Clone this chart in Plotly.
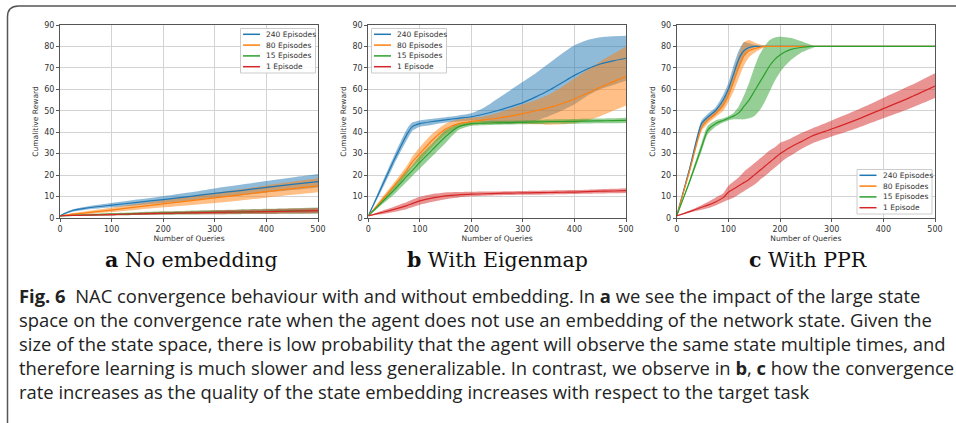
import plotly.graph_objects as go

# ---------------- data ----------------
SERIES_NAMES = ["240 Episodes", "80 Episodes", "15 Episodes", "1 Episode"]
COLORS = ["#1f77b4", "#ff7f0e", "#2ca02c", "#d62728"]
FILLS = ["rgba(31,119,180,0.5)", "rgba(255,127,14,0.5)", "rgba(44,160,44,0.5)", "rgba(214,39,40,0.5)"]

# Panel a: No embedding
xa = [0, 10, 25, 50, 100, 150, 200, 250, 300, 350, 400, 450, 500]
a_240_mean = [1, 2.2, 3.5, 4.6, 6.0, 7.3, 8.6, 10.0, 11.5, 12.8, 14.3, 15.7, 17.0]
a_240_lo = [1, 1.8, 3.0, 3.9, 5.0, 6.0, 7.0, 8.2, 9.5, 10.6, 11.8, 13.0, 14.2]
a_240_hi = [1, 2.6, 4.1, 5.3, 7.0, 8.6, 10.2, 11.9, 13.8, 15.5, 17.2, 18.9, 20.5]
a_80_mean = [1, 1.3, 1.8, 2.4, 3.7, 5.2, 6.6, 8.0, 9.4, 10.8, 12.3, 13.7, 15.0]
a_80_lo = [1, 1.1, 1.4, 1.8, 2.8, 3.9, 5.0, 6.0, 7.0, 8.2, 9.5, 10.8, 12.0]
a_80_hi = [1, 1.6, 2.3, 3.2, 4.8, 6.6, 8.3, 10.0, 11.7, 13.4, 15.2, 16.9, 18.5]
a_15_mean = [1, 1.1, 1.2, 1.4, 1.7, 2.0, 2.3, 2.5, 2.7, 2.9, 3.1, 3.3, 3.5]
a_15_lo = [1, 1.0, 1.0, 1.1, 1.2, 1.4, 1.5, 1.6, 1.7, 1.8, 1.9, 2.0, 2.1]
a_15_hi = [1, 1.3, 1.5, 1.8, 2.3, 2.7, 3.1, 3.4, 3.7, 4.0, 4.3, 4.6, 4.9]
a_1_mean = [1, 1.1, 1.2, 1.3, 1.6, 1.9, 2.2, 2.4, 2.6, 2.8, 3.0, 3.2, 3.4]
a_1_lo = [1, 1.0, 1.0, 1.1, 1.2, 1.4, 1.6, 1.7, 1.8, 1.9, 2.0, 2.1, 2.2]
a_1_hi = [1, 1.2, 1.4, 1.6, 2.1, 2.5, 2.9, 3.2, 3.5, 3.8, 4.1, 4.4, 4.7]

# Panel b: With Eigenmap
xb = [0, 25, 50, 75, 85, 100, 125, 150, 175, 200, 225, 250, 275, 300, 325, 350, 375, 400, 425, 450, 475, 500]
b_240_mean = [1, 14, 27, 39, 42.5, 44, 45, 45.8, 46.5, 47.2, 48.5, 50, 51.8, 53.8, 56.5, 59.5, 63, 66.5, 69.5, 71.8, 73.3, 74.5]
b_240_lo = [1, 12.5, 25, 36.5, 40.5, 42.5, 43.5, 44.5, 45, 45.5, 45, 44.2, 44, 44.5, 45.5, 47.5, 50, 53, 57, 60, 62, 64]
b_240_hi = [1, 15.5, 29, 41.5, 44.5, 45.5, 46.3, 47, 47.8, 48.8, 51.5, 55.5, 59.5, 63.5, 67.5, 72, 76.5, 80.5, 83, 84.3, 84.8, 85]
b_80_mean = [1, 8, 15, 22.5, 26, 30, 36.5, 41.5, 44, 45, 45.8, 46.5, 47.5, 48.7, 50, 51.5, 53.3, 55.5, 58.2, 61, 63.5, 66]
b_80_lo = [1, 7, 13.5, 20.5, 23.5, 27, 33.5, 39, 42.5, 43.5, 44, 44, 44, 44, 43.7, 43.5, 43.7, 44.2, 45.5, 47.5, 50, 52.5]
b_80_hi = [1, 9, 16.5, 24.5, 28.5, 33, 39.5, 44, 46, 46.8, 47.5, 49, 51, 53, 55, 57.5, 61, 65, 69, 73, 76.5, 80]
b_15_mean = [1, 7, 13, 19.5, 22, 26, 32, 38, 42.5, 44, 44.2, 44.4, 44.5, 44.6, 44.8, 45, 45, 45.1, 45.2, 45.3, 45.4, 45.5]
b_15_lo = [1, 6, 11, 17, 19.5, 23, 29, 35, 41, 43, 43.3, 43.5, 43.6, 43.7, 43.8, 44, 44, 44, 44.1, 44.2, 44.2, 44.3]
b_15_hi = [1, 8, 15, 22, 24.5, 29, 35, 41, 44, 45, 45.2, 45.3, 45.4, 45.5, 45.7, 45.9, 46, 46.2, 46.3, 46.4, 46.5, 46.7]
b_1_mean = [1, 2.5, 4, 5.8, 6.7, 8, 9.4, 10.3, 10.8, 11.1, 11.3, 11.5, 11.6, 11.7, 11.8, 11.9, 12.0, 12.1, 12.3, 12.5, 12.6, 12.8]
b_1_lo = [1, 1.7, 2.8, 4.2, 5, 6.2, 7.6, 8.8, 9.6, 10.1, 10.4, 10.6, 10.7, 10.8, 10.9, 11.0, 11.1, 11.2, 11.3, 11.4, 11.5, 11.6]
b_1_hi = [1, 3.3, 5.3, 7.5, 8.5, 9.9, 11.2, 11.9, 12.1, 12.2, 12.3, 12.4, 12.5, 12.6, 12.7, 12.8, 12.9, 13.0, 13.2, 13.4, 13.6, 13.9]

# Panel c: With PPR
xc = [0, 25, 48, 60, 75, 90, 100, 110, 120, 130, 140, 150, 160, 170, 180, 190, 200, 210, 220, 240, 260, 270, 300, 350, 400, 450, 500]
c_240_mean = [1, 23, 44, 47, 50, 55, 60, 67, 74, 78, 79.5, 80, 80, 80, 80, 80, 80, 80, 80, 80, 80, 80, 80, 80, 80, 80, 80]
c_240_lo = [1, 22, 42.5, 45.5, 48.5, 52.5, 57, 63, 70, 75.5, 78.5, 79.5, 79.8, 80, 80, 80, 80, 80, 80, 80, 80, 80, 80, 80, 80, 80, 80]
c_240_hi = [1, 24, 45.5, 48.5, 51.5, 57.5, 63, 71, 78, 82, 81.5, 80.8, 80.3, 80, 80, 80, 80, 80, 80, 80, 80, 80, 80, 80, 80, 80, 80]
c_80_mean = [1, 22, 42, 45.5, 48.5, 52.5, 57, 63.5, 70, 75.5, 78, 79, 79.6, 80, 80, 80, 80, 80, 80, 80, 80, 80, 80, 80, 80, 80, 80]
c_80_lo = [1, 21, 40.5, 44, 47, 50, 54, 59, 65, 71, 75, 77, 78.5, 79.5, 80, 80, 80, 80, 80, 80, 80, 80, 80, 80, 80, 80, 80]
c_80_hi = [1, 23, 43.5, 47, 50, 55, 61, 68, 76, 82, 83, 82, 81, 80.5, 80, 80, 80, 80, 80, 80, 80, 80, 80, 80, 80, 80, 80]
c_15_mean = [1, 17, 33, 41, 44, 45.5, 46.5, 47.5, 49, 52, 55, 59, 63, 67, 71, 74, 76, 77.5, 78.5, 79.5, 80, 80, 80, 80, 80, 80, 80]
c_15_lo = [1, 16, 31, 39, 42.5, 44.5, 45.5, 46, 46, 46, 46.5, 47.5, 50, 54, 59, 64, 68, 71, 73.5, 77, 79, 80, 80, 80, 80, 80, 80]
c_15_hi = [1, 18, 35, 43, 45.5, 46.5, 47.5, 49, 52, 57, 63, 70, 76, 80, 83, 84.2, 84.5, 84.3, 84, 82.5, 80.7, 80, 80, 80, 80, 80, 80]
c_1_mean = [1, 3, 5, 6, 7.5, 9.5, 12, 13.5, 15, 16.5, 18, 20, 22, 24, 26, 28, 30, 31.5, 33, 35.5, 38, 39, 41.5, 46, 51, 56, 61.5]
c_1_lo = [1, 2.5, 3.8, 4.5, 5.8, 7.5, 8.5, 9.5, 11, 12.5, 14, 15.5, 17.5, 19.5, 21.5, 23.5, 25.5, 27.5, 29, 32, 34.5, 35.5, 38, 42, 46.5, 51, 56]
c_1_hi = [1, 3.5, 6, 7.5, 9.5, 11.5, 15, 17, 19, 21.5, 23.5, 25.5, 27.5, 29.5, 31.5, 33, 35, 36, 37, 39.5, 41.5, 42.5, 45.5, 50.5, 56, 61.5, 67.5]

X_TICKS = [0, 100, 200, 300, 400, 500]
Y_TICKS = [0, 10, 20, 30, 40, 50, 60, 70, 80, 90]
X_TITLE = "Number of Queries"
Y_TITLE = "Cumalitive Reward"
PANEL_LABELS = [("a", "No embedding"), ("b", "With Eigenmap"), ("c", "With PPR")]
CAPTION_LINES = [
    "<b>Fig. 6</b>  NAC convergence behaviour with and without embedding. In <b>a</b> we see the impact of the large state",
    "space on the convergence rate when the agent does not use an embedding of the network state. Given the",
    "size of the state space, there is low probability that the agent will observe the same state multiple times, and",
    "therefore learning is much slower and less generalizable. In contrast, we observe in <b>b</b>, <b>c</b> how the convergence",
    "rate increases as the quality of the state embedding increases with respect to the target task",
]

panels = [
    (xa, [(a_240_mean, a_240_lo, a_240_hi), (a_80_mean, a_80_lo, a_80_hi), (a_15_mean, a_15_lo, a_15_hi), (a_1_mean, a_1_lo, a_1_hi)]),
    (xb, [(b_240_mean, b_240_lo, b_240_hi), (b_80_mean, b_80_lo, b_80_hi), (b_15_mean, b_15_lo, b_15_hi), (b_1_mean, b_1_lo, b_1_hi)]),
    (xc, [(c_240_mean, c_240_lo, c_240_hi), (c_80_mean, c_80_lo, c_80_hi), (c_15_mean, c_15_lo, c_15_hi), (c_1_mean, c_1_lo, c_1_hi)]),
]

# ---------------- layout geometry (pixels) ----------------
W, H = 956, 423
def px(x): return x / W
def py(y): return (H - y) / H

plot_left = [60, 368.3, 676.7]
plot_right = [318, 626, 935]
plot_top, plot_bottom = 25, 218

fig = go.Figure()

for i, (xs, series) in enumerate(panels):
    ax = "" if i == 0 else str(i + 1)
    for j, (mean, lo, hi) in enumerate(series):
        fig.add_trace(go.Scatter(x=xs, y=lo, mode="lines", line=dict(width=0, shape="spline", smoothing=0.6),
                                 showlegend=False, hoverinfo="skip", xaxis="x" + ax, yaxis="y" + ax))
        fig.add_trace(go.Scatter(x=xs, y=hi, mode="lines", line=dict(width=0, shape="spline", smoothing=0.6),
                                 fill="tonexty", fillcolor=FILLS[j], showlegend=False, hoverinfo="skip",
                                 xaxis="x" + ax, yaxis="y" + ax))
    for j, (mean, lo, hi) in enumerate(series):
        fig.add_trace(go.Scatter(x=xs, y=mean, mode="lines", name=SERIES_NAMES[j], showlegend=False,
                                 line=dict(color=COLORS[j], width=1.2, shape="spline", smoothing=0.6),
                                 xaxis="x" + ax, yaxis="y" + ax))

axis_common = dict(showline=True, mirror=True, linecolor="#555555", linewidth=1,
                   showgrid=True, gridcolor="#d3d3d3", gridwidth=1, zeroline=False,
                   ticks="outside", ticklen=3, tickcolor="#555555",
                   tickfont=dict(family="DejaVu Sans", size=8, color="#333333"))

layout = dict(width=W, height=H, margin=dict(l=0, r=0, t=0, b=0, autoexpand=False),
              paper_bgcolor="white", plot_bgcolor="white", showlegend=False)

for i in range(3):
    sfx = "" if i == 0 else str(i + 1)
    layout["xaxis" + sfx] = dict(axis_common, domain=[px(plot_left[i]), px(plot_right[i])], range=[0, 500],
                                 tickvals=X_TICKS, anchor="y" + sfx,
                                 title=dict(text=X_TITLE, font=dict(family="DejaVu Sans", size=7.5, color="#333333"), standoff=3))
    layout["yaxis" + sfx] = dict(axis_common, domain=[py(plot_bottom), py(plot_top)], range=[0, 90],
                                 tickvals=Y_TICKS, anchor="x" + sfx,
                                 title=dict(text=Y_TITLE, font=dict(family="DejaVu Sans", size=7.5, color="#333333"), standoff=4))

fig.update_layout(**layout)

# ---------------- legends (drawn as boxes with line keys and text) ----------------
legend_boxes = [(240.5, 28.5), (371.5, 28.5), (857, 169.5)]
BOX_W, BOX_H, ROW = 75, 44.5, 10.8
for (bl, bt) in legend_boxes:
    fig.add_shape(type="rect", xref="paper", yref="paper",
                  x0=px(bl), x1=px(bl + BOX_W), y0=py(bt + BOX_H), y1=py(bt),
                  line=dict(color="#cccccc", width=1), fillcolor="rgba(255,255,255,0.85)", layer="above")
    for j, name in enumerate(SERIES_NAMES):
        yy = bt + 5.8 + ROW * j
        fig.add_shape(type="line", xref="paper", yref="paper",
                      x0=px(bl + 2.5), x1=px(bl + 19.5), y0=py(yy), y1=py(yy),
                      line=dict(color=COLORS[j], width=1.5), layer="above")
        fig.add_annotation(x=px(bl + 23.5), y=py(yy), xref="paper", yref="paper", showarrow=False,
                           text=name, xanchor="left", yanchor="middle",
                           font=dict(family="DejaVu Sans", size=7.5, color="#333333"))

# panel sub-labels
centers = [191, 497, 808]
for i, (letter, label) in enumerate(PANEL_LABELS):
    fig.add_annotation(x=px(centers[i]), y=py(260), xref="paper", yref="paper", showarrow=False,
                       text=f"<b>{letter}</b> {label}", xanchor="center", yanchor="middle",
                       font=dict(family="DejaVu Serif", size=20.5, color="#111111"))

# caption
for k, line in enumerate(CAPTION_LINES):
    fig.add_annotation(x=px(17), y=py(295 + 24 * k), xref="paper", yref="paper", showarrow=False,
                       text=line, xanchor="left", yanchor="middle", align="left",
                       font=dict(family="Open Sans", size=18.4, color="#222222"))

# rounded frame (top and left edges with rounded corner)
r = 11
x0, y0 = 7.5, 6
path = (f"M {px(x0)},{py(430)} L {px(x0)},{py(y0 + r)} "
        f"Q {px(x0)},{py(y0)} {px(x0 + r)},{py(y0)} L {px(990)},{py(y0)}")
fig.add_shape(type="path", path=path, xref="paper", yref="paper",
              line=dict(color="#555555", width=1.5))

fig.write_html("out.html", config={"displayModeBar": False},
               post_script="document.body.style.margin='0';")
